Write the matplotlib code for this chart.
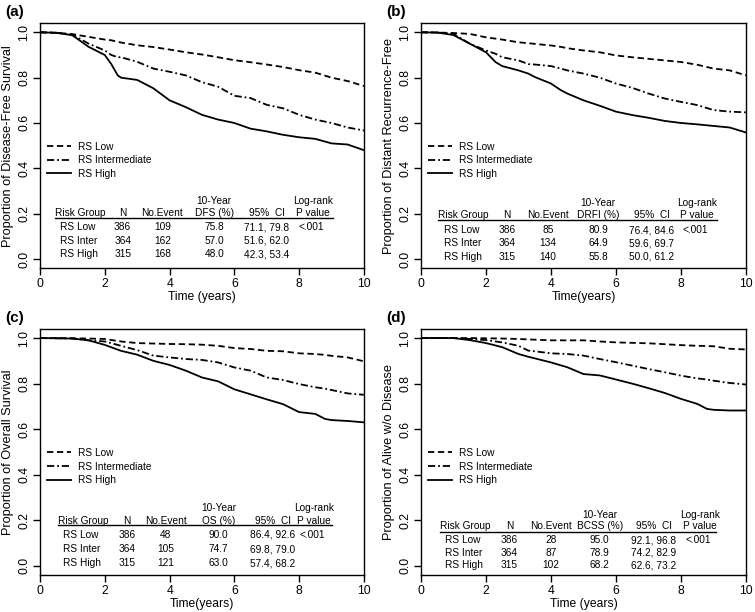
import numpy as np
import matplotlib.pyplot as plt

plt.rcParams['font.family'] = ['Liberation Sans', 'DejaVu Sans']

# survival estimates (years, proportion)
t_a = [0, 0.5, 1, 1.5, 2, 2.2, 2.4, 2.5, 3, 3.5, 4, 4.5, 5, 5.5, 6, 6.5, 7, 7.5, 8, 8.5, 9, 9.5, 10]
low_a = [1.0, 0.998, 0.992, 0.98, 0.968, 0.965, 0.958, 0.955, 0.943, 0.935, 0.924, 0.912, 0.902, 0.89, 0.877, 0.868, 0.858, 0.847, 0.833, 0.822, 0.80, 0.785, 0.763]
int_a = [1.0, 0.998, 0.99, 0.95, 0.92, 0.90, 0.89, 0.89, 0.87, 0.84, 0.826, 0.81, 0.78, 0.76, 0.72, 0.71, 0.68, 0.665, 0.636, 0.615, 0.60, 0.58, 0.567]
high_a = [1.0, 0.998, 0.987, 0.936, 0.90, 0.86, 0.81, 0.80, 0.79, 0.753, 0.70, 0.67, 0.636, 0.615, 0.60, 0.575, 0.563, 0.548, 0.537, 0.53, 0.51, 0.505, 0.48]

t_b = [0, 0.5, 1, 1.5, 2, 2.3, 2.5, 3, 3.3, 3.5, 4, 4.3, 4.5, 5, 5.5, 6, 6.5, 7, 7.5, 8, 8.5, 9, 9.5, 10]
low_b = [1.0, 0.999, 0.997, 0.993, 0.978, 0.972, 0.968, 0.956, 0.952, 0.949, 0.942, 0.936, 0.93, 0.92, 0.912, 0.898, 0.89, 0.883, 0.876, 0.869, 0.857, 0.84, 0.832, 0.81]
int_b = [1.0, 0.999, 0.993, 0.95, 0.92, 0.905, 0.89, 0.876, 0.86, 0.858, 0.851, 0.84, 0.832, 0.818, 0.80, 0.774, 0.755, 0.73, 0.708, 0.693, 0.679, 0.657, 0.65, 0.647]
high_b = [1.0, 0.999, 0.988, 0.95, 0.912, 0.868, 0.851, 0.832, 0.818, 0.803, 0.774, 0.745, 0.73, 0.70, 0.676, 0.65, 0.635, 0.623, 0.609, 0.60, 0.594, 0.587, 0.58, 0.558]

t_c = [0, 0.5, 1, 1.5, 2, 2.5, 3, 3.5, 4, 4.5, 5, 5.5, 6, 6.5, 7, 7.5, 8, 8.5, 8.8, 9, 9.5, 10]
low_c = [1.0, 1.0, 0.999, 0.998, 0.996, 0.985, 0.978, 0.976, 0.974, 0.973, 0.971, 0.966, 0.956, 0.952, 0.944, 0.942, 0.933, 0.93, 0.926, 0.922, 0.915, 0.898]
int_c = [1.0, 0.999, 0.998, 0.99, 0.985, 0.966, 0.947, 0.923, 0.915, 0.908, 0.904, 0.893, 0.871, 0.857, 0.827, 0.816, 0.798, 0.784, 0.778, 0.772, 0.757, 0.751]
high_c = [1.0, 0.999, 0.998, 0.99, 0.97, 0.944, 0.927, 0.90, 0.882, 0.857, 0.827, 0.81, 0.775, 0.753, 0.731, 0.71, 0.675, 0.667, 0.645, 0.64, 0.636, 0.63]

t_d = [0, 0.5, 1, 1.5, 2, 2.5, 3, 3.3, 3.5, 4, 4.5, 5, 5.5, 6, 6.5, 7, 7.5, 8, 8.5, 8.8, 9, 9.5, 10]
low_d = [1.0, 1.0, 1.0, 1.0, 0.999, 0.998, 0.996, 0.994, 0.993, 0.99, 0.99, 0.99, 0.985, 0.981, 0.979, 0.977, 0.973, 0.969, 0.966, 0.965, 0.964, 0.953, 0.95]
int_d = [1.0, 1.0, 1.0, 0.996, 0.991, 0.981, 0.966, 0.945, 0.942, 0.933, 0.93, 0.923, 0.908, 0.894, 0.879, 0.864, 0.85, 0.835, 0.823, 0.818, 0.813, 0.803, 0.796]
high_d = [1.0, 1.0, 1.0, 0.991, 0.978, 0.96, 0.93, 0.918, 0.911, 0.893, 0.872, 0.842, 0.836, 0.818, 0.80, 0.78, 0.759, 0.733, 0.711, 0.689, 0.685, 0.682, 0.682]

# table contents
groups = ['RS Low', 'RS Inter', 'RS High']
n_pts = [386, 364, 315]
events_a = [109, 162, 168]
events_b = [85, 134, 140]
events_c = [48, 105, 121]
events_d = [28, 87, 102]
rate_a = ['75.8', '57.0', '48.0']
rate_b = ['80.9', '64.9', '55.8']
rate_c = ['90.0', '74.7', '63.0']
rate_d = ['95.0', '78.9', '68.2']
ci_a = ['71.1, 79.8', '51.6, 62.0', '42.3, 53.4']
ci_b = ['76.4, 84.6', '59.6, 69.7', '50.0, 61.2']
ci_c = ['86.4, 92.6', '69.8, 79.0', '57.4, 68.2']
ci_d = ['92.1, 96.8', '74.2, 82.9', '62.6, 73.2']
pval = '<.001'

legend_labels = ['RS Low', 'RS Intermediate', 'RS High']

panels = [
    dict(tag='(a)', rect=[0.053, 0.562, 0.429, 0.400], t=t_a, s=[low_a, int_a, high_a],
         ylab='Proportion of Disease-Free Survival', xlab='Time (years)', ev=events_a, rate=rate_a,
         ci=ci_a, end='DFS (%)',
         cols=[0.46, 0.62, 2.55, 3.78, 5.38, 7.0, 8.43, 9.04], rows=[0.257, 0.205, 0.180, 0.139, 0.080, 0.022]),
    dict(tag='(b)', rect=[0.5576, 0.562, 0.4305, 0.400], t=t_b, s=[low_b, int_b, high_b],
         ylab='Proportion of Distant Recurrence-Free', xlab='Time(years)', ev=events_b, rate=rate_b,
         ci=ci_b, end='DRFI (%)',
         cols=[0.53, 0.70, 2.65, 3.9, 5.45, 7.1, 8.5, 9.1], rows=[0.248, 0.193, 0.172, 0.127, 0.069, 0.010]),
    dict(tag='(c)', rect=[0.053, 0.0605, 0.429, 0.402], t=t_c, s=[low_c, int_c, high_c],
         ylab='Proportion of Overall Survival', xlab='Time(years)', ev=events_c, rate=rate_c,
         ci=ci_c, end='OS (%)',
         cols=[0.56, 0.72, 2.68, 3.88, 5.52, 7.18, 8.46, 9.03], rows=[0.253, 0.199, 0.181, 0.137, 0.073, 0.012]),
    dict(tag='(d)', rect=[0.5576, 0.0605, 0.4305, 0.402], t=t_d, s=[low_d, int_d, high_d],
         ylab='Proportion of Alive w/o Disease', xlab='Time (years)', ev=events_d, rate=rate_d,
         ci=ci_d, end='BCSS (%)',
         cols=[0.59, 0.75, 2.72, 4.0, 5.5, 7.17, 8.58, 9.09], rows=[0.222, 0.174, 0.149, 0.112, 0.057, 0.003]),
]

styles = [(0, (3.5, 2)), (0, (4, 1.6, 1, 1.6)), '-']

fig = plt.figure(figsize=(7.55, 6.12), dpi=100)
tfs = 7.3

for p in panels:
    ax = fig.add_axes(p['rect'])
    for s, ls, lab in zip(p['s'], styles, legend_labels):
        ax.plot(p['t'], s, color='black', lw=1.3, linestyle=ls, label=lab)
    ax.set_xlim(0, 10)
    ax.set_ylim(-0.04, 1.04)
    ax.set_xticks([0, 2, 4, 6, 8, 10])
    ax.set_yticks([0.0, 0.2, 0.4, 0.6, 0.8, 1.0])
    ax.set_yticklabels(['0.0', '0.2', '0.4', '0.6', '0.8', '1.0'], rotation=90, va='center')
    ax.tick_params(labelsize=8.7, length=5, width=1, pad=2)
    for sp in ax.spines.values():
        sp.set_linewidth(1.0)
    ax.set_ylabel(p['ylab'], fontsize=9.2, labelpad=3)
    ax.set_xlabel(p['xlab'], fontsize=8.7, labelpad=1)
    ax.legend(loc='upper left', bbox_to_anchor=(0.0, 0.545), frameon=False, fontsize=tfs,
              handlelength=2.4, handletextpad=0.6, labelspacing=0.35, borderaxespad=0.3)

    c = p['cols']
    r = p['rows']
    kw = dict(fontsize=tfs, va='center')
    ax.text(c[4], r[0], '10-Year', ha='center', **kw)
    ax.text(c[6], r[0], 'Log-rank', ha='center', **kw)
    ax.text(c[0], r[1], 'Risk Group', ha='left', **kw)
    ax.text(c[2], r[1], 'N', ha='center', **kw)
    ax.text(c[3], r[1], 'No.Event', ha='center', **kw)
    ax.text(c[4], r[1], p['end'], ha='center', **kw)
    ax.text(c[5], r[1], '95%  CI', ha='center', **kw)
    ax.text(c[6], r[1], 'P value', ha='center', **kw)
    ax.plot([c[0], c[7]], [r[2], r[2]], color='black', lw=1.0)
    for i in range(3):
        y = r[3 + i]
        ax.text(c[1], y, groups[i], ha='left', **kw)
        ax.text(c[2], y, str(n_pts[i]), ha='center', **kw)
        ax.text(c[3], y, str(p['ev'][i]), ha='center', **kw)
        ax.text(c[4], y, p['rate'][i], ha='center', **kw)
        ax.text(c[5], y, p['ci'][i], ha='center', **kw)
    ax.text(c[6] - 0.05, r[3], pval, ha='center', **kw)

    fig.text(p['rect'][0] - 0.046, p['rect'][1] + p['rect'][3] + 0.018, p['tag'],
             fontsize=11, fontweight='bold', va='center', ha='left')

fig.savefig('out.png', dpi=100)
